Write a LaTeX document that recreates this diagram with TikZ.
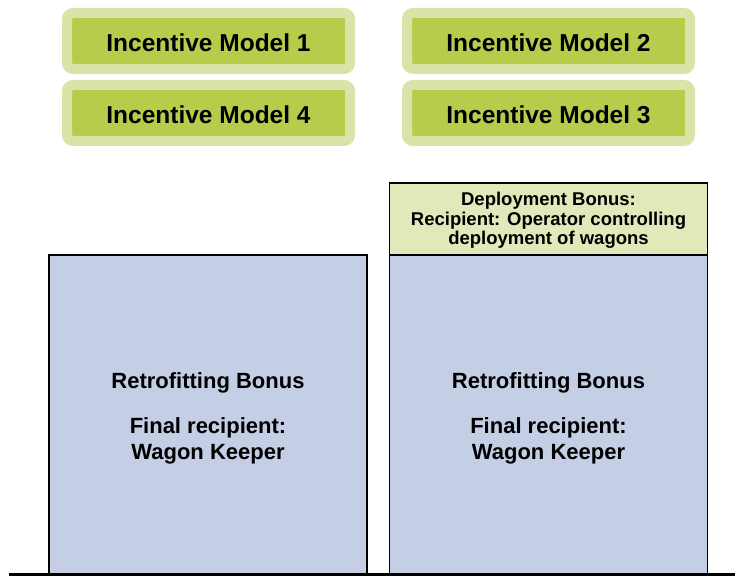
\documentclass[tikz,border=0pt]{standalone}
\usepackage{fontspec}
\setmainfont{Liberation Sans}
\usetikzlibrary{positioning}
\definecolor{lightgreen}{RGB}{216,228,168}
\definecolor{darkgreen}{RGB}{182,205,75}
\definecolor{paleblue}{RGB}{196,206,228}
\definecolor{palegreen}{RGB}{224,233,186}
\newcommand{\strutup}[1]{\rule{0pt}{#1}}

\begin{document}
\begin{tikzpicture}[x=1pt,y=-1pt,font=\bfseries,node distance=0pt]
\tikzstyle{model}=[rectangle,rounded corners=6pt,line width=10pt,draw=lightgreen,fill=darkgreen,
  minimum width=283pt,minimum height=56pt,font=\bfseries\fontsize{24.5}{28}\selectfont]
\tikzstyle{bonus}=[rectangle,draw=black,line width=1.5pt,fill=paleblue,outer sep=0pt,
  minimum width=318pt,minimum height=320pt,align=center,font=\bfseries\fontsize{22}{26}\selectfont]
\tikzstyle{deploy}=[rectangle,draw=black,line width=1.5pt,fill=palegreen,outer sep=0pt,
  minimum width=318pt,minimum height=72pt,align=center,font=\bfseries\fontsize{18.5}{19.5}\selectfont]
\useasboundingbox (0,0) rectangle (735,577);
% incentive models
\node[model] (m1) at (208.5,41) {\strutup{22pt}Incentive Model 1};
\node[model] (m2) at (548.5,41) {\strutup{22pt}Incentive Model 2};
\node[model] (m4) at (208.5,113) {\strutup{22pt}Incentive Model 4};
\node[model] (m3) at (548.5,113) {\strutup{22pt}Incentive Model 3};
% bonus blocks
\node[bonus] (retro1) at (208,415) {\strutup{22pt}Retrofitting Bonus\\[19pt]Final recipient:\\Wagon Keeper};
\node[bonus] (retro2) at (548.5,415) {\strutup{22pt}Retrofitting Bonus\\[19pt]Final recipient:\\Wagon Keeper};
\node[deploy] (deploy) [above=of retro2] {\strutup{16.5pt}Deployment Bonus:\\Recipient: Operator controlling\\deployment of wagons};
% ground line
\coordinate (gl) at (9,574);
\coordinate (gr) at (735,574);
\draw[line width=3pt] (gl) -- (gr);
\end{tikzpicture}
\end{document}
